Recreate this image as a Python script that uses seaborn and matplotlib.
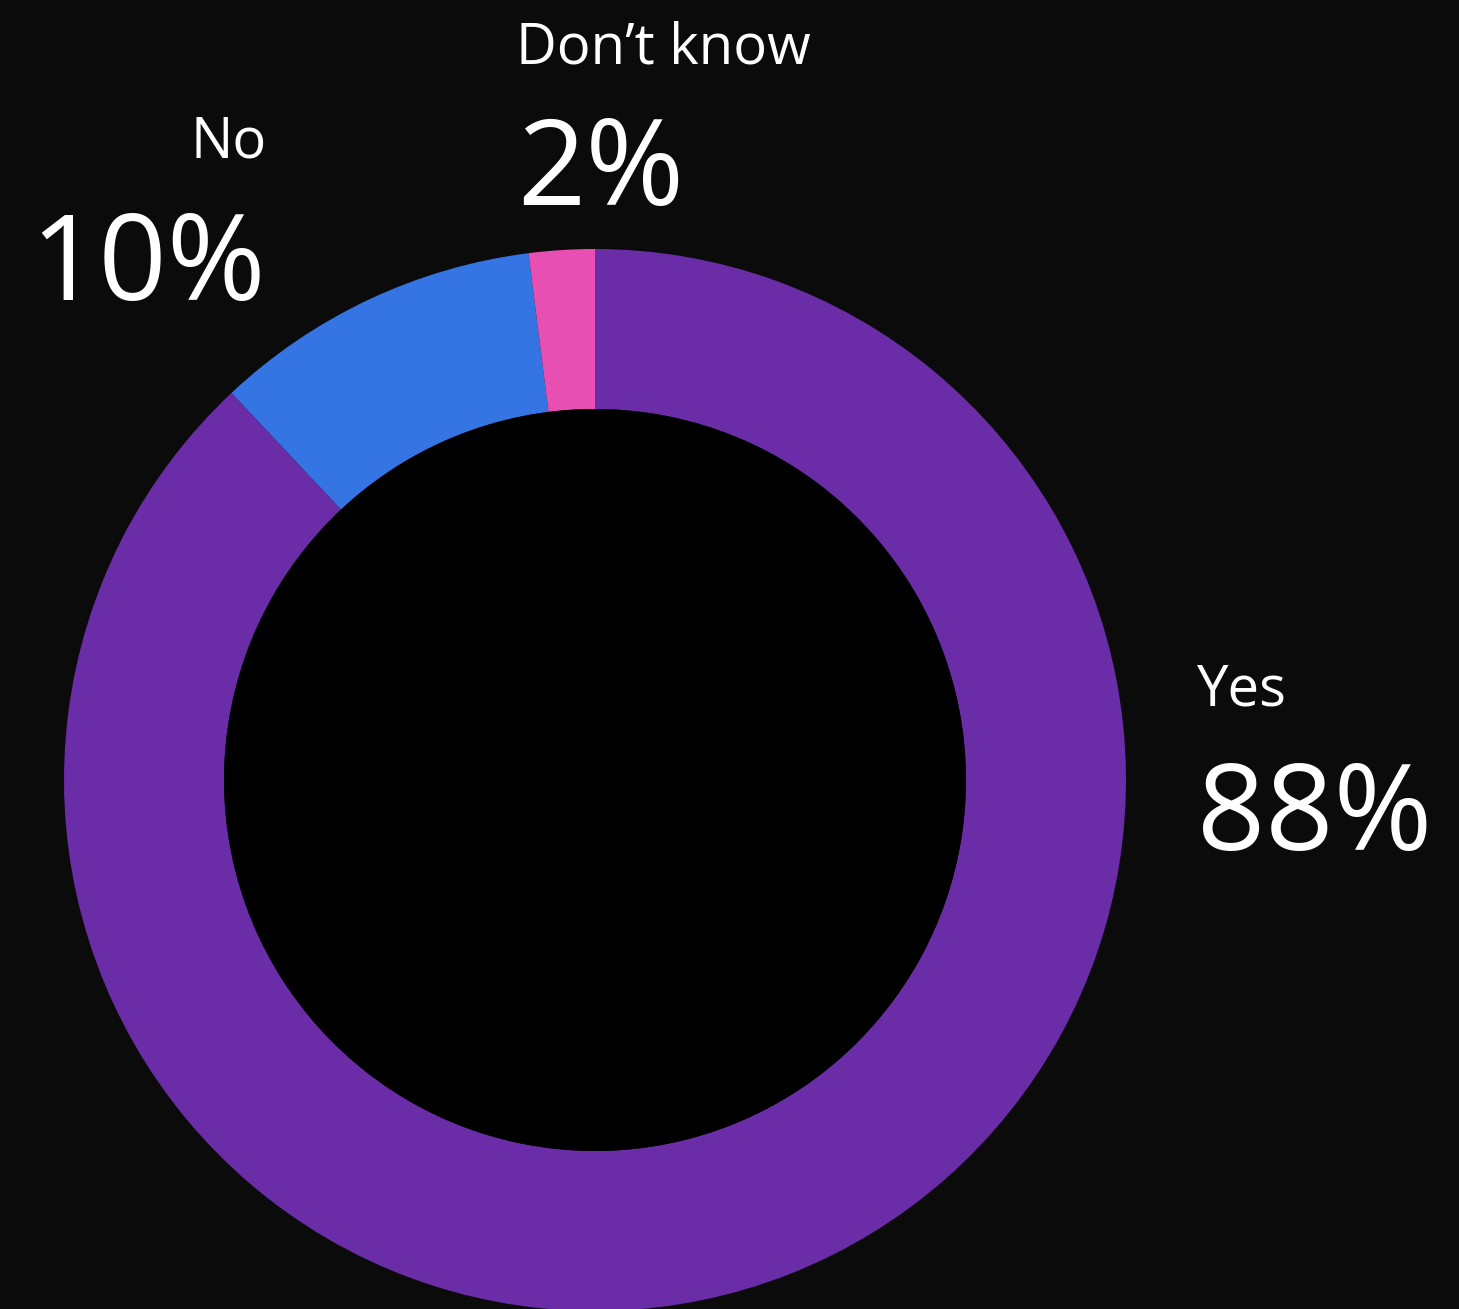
import matplotlib
matplotlib.use("Agg")
import matplotlib.pyplot as plt
import seaborn as sns
from matplotlib.patches import Circle

categories = ["Yes", "No", "Don\u2019t know"]
values = [88, 10, 2]
pct_labels = ["88%", "10%", "2%"]
colors = ["#6b2ca8", "#3574e3", "#e84fb2"]

BG = "#0b0b0b"
sns.set_theme(style="dark")
plt.rcParams["font.family"] = ["Open Sans", "DejaVu Sans"]

W, H = 1459, 1309
fig = plt.figure(figsize=(W / 100, H / 100), dpi=100, facecolor=BG)
ax = fig.add_axes([0, 0, 1, 1])
ax.set_facecolor(BG)

cx, cy = 595, H - 780
R_out, R_in = 531, 371
ax.pie(values, colors=colors, startangle=90, counterclock=False,
       center=(cx, cy), radius=R_out, frame=True,
       wedgeprops=dict(width=R_out - R_in, linewidth=0, edgecolor="none"))
ax.add_patch(Circle((cx, cy), R_in, facecolor="#000000", edgecolor="none", zorder=5))
ax.set_xlim(0, W)
ax.set_ylim(0, H)
ax.set_aspect("equal")
ax.set_axis_off()

# label placements (pixel coords from top): (x, name_baseline, pct_baseline, ha)
placements = {
    "Yes": (1196, 706, 850, "left"),
    "No": (267, 157, 300, "right"),
    "Don\u2019t know": (516, 63, 205, "left"),
}
for cat, pct in zip(categories, pct_labels):
    x, yb1, yb2, ha = placements[cat]
    ax.text(x, H - yb1, cat, color="white", fontsize=40.5, ha=ha, va="baseline")
    ax.text(x + (1 if ha == "left" else -1), H - yb2, pct, color="white",
            fontsize=86, ha=ha, va="baseline")

fig.savefig("out.png", dpi=100, facecolor=BG)
